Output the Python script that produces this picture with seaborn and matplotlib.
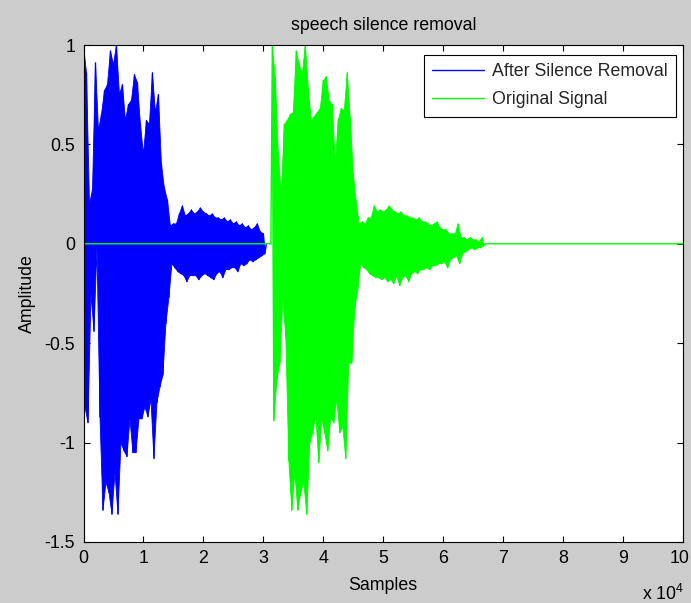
import matplotlib
matplotlib.use("Agg")
import matplotlib.pyplot as plt
import matplotlib.transforms as mtransforms
import pandas as pd
import seaborn as sns

SPACING = 500          # samples between successive peak readings
TOTAL_SAMPLES = 100000

# Speech after silence removal (starts at sample 0): positive / negative peaks
trimmed_start = 0
trimmed_hi = [1.0, 0.86, 0.2, 0.27, 0.91, 0.57, 0.65, 0.77, 0.8, 0.97,
              0.9, 1.0, 0.75, 0.8, 0.62, 0.7, 0.72, 0.85, 0.81, 0.6,
              0.45, 0.62, 0.6, 0.86, 0.66, 0.75, 0.4, 0.28, 0.22, 0.09,
              0.1, 0.1, 0.15, 0.19, 0.14, 0.15, 0.17, 0.15, 0.16, 0.18,
              0.16, 0.15, 0.14, 0.15, 0.13, 0.13, 0.12, 0.13, 0.11, 0.12,
              0.1, 0.11, 0.09, 0.1, 0.08, 0.09, 0.07, 0.08, 0.1, 0.06, 0.05]
trimmed_lo = [-0.82, -0.9, -0.25, -0.44, -0.02, -0.87, -1.34, -1.2, -1.25, -1.36,
              -1.15, -1.36, -1.0, -1.04, -1.07, -0.88, -1.05, -1.05, -0.88, -0.88,
              -0.82, -0.87, -0.78, -1.08, -0.8, -0.72, -0.66, -0.4, -0.27, -0.1,
              -0.12, -0.14, -0.15, -0.16, -0.19, -0.16, -0.16, -0.16, -0.18, -0.16,
              -0.15, -0.16, -0.17, -0.18, -0.15, -0.14, -0.17, -0.13, -0.13, -0.12,
              -0.12, -0.14, -0.1, -0.11, -0.1, -0.08, -0.09, -0.08, -0.07, -0.06, -0.05]

# Original recording: silence, speech from sample 31500, silence to the end
original_start = 31500
original_hi = [1.0, 0.83, 0.45, 0.25, 0.6, 0.62, 0.65, 0.66, 0.97, 0.9,
               0.85, 1.0, 0.78, 0.62, 0.64, 0.66, 0.68, 0.82, 0.84, 0.72,
               0.7, 0.41, 0.62, 0.68, 0.67, 0.86, 0.63, 0.35, 0.21, 0.1,
               0.11, 0.1, 0.13, 0.13, 0.19, 0.16, 0.17, 0.16, 0.17, 0.19,
               0.17, 0.16, 0.15, 0.16, 0.14, 0.14, 0.13, 0.13, 0.12, 0.13,
               0.11, 0.11, 0.1, 0.09, 0.1, 0.11, 0.08, 0.07, 0.07, 0.05,
               0.05, 0.05, 0.1, 0.03, 0.03, 0.02, 0.03, 0.02, 0.02, 0.01, 0.03]
original_lo = [-0.89, -0.69, -0.6, -0.28, -0.47, -1.09, -1.34, -1.15, -1.34, -1.25,
               -1.2, -1.36, -1.0, -0.95, -0.86, -1.1, -0.88, -0.95, -1.04, -0.87,
               -0.9, -0.78, -0.95, -0.92, -1.08, -0.6, -0.6, -0.33, -0.23, -0.1,
               -0.12, -0.13, -0.15, -0.16, -0.17, -0.17, -0.18, -0.17, -0.19, -0.18,
               -0.2, -0.16, -0.21, -0.17, -0.16, -0.19, -0.15, -0.14, -0.15, -0.13,
               -0.13, -0.12, -0.13, -0.11, -0.11, -0.1, -0.1, -0.09, -0.12, -0.08,
               -0.07, -0.06, -0.1, -0.05, -0.04, -0.03, -0.02, -0.03, -0.02, -0.02, -0.01]

x_tick_values = [0, 10000, 20000, 30000, 40000, 50000, 60000, 70000, 80000, 90000, 100000]
x_tick_labels = ["0", "1", "2", "3", "4", "5", "6", "7", "8", "9", "10"]
y_tick_values = [-1.5, -1, -0.5, 0, 0.5, 1]
y_tick_labels = ["-1.5", "-1", "-0.5", "0", "0.5", "1"]


def waveform(start, hi, lo):
    """Alternate positive and negative peaks to trace an audio waveform."""
    xs, ys = [], []
    for i, (h, l) in enumerate(zip(hi, lo)):
        xs += [start + i * SPACING, start + i * SPACING + SPACING / 2]
        ys += [h, l]
    return xs, ys


def envelope(start, hi, lo):
    """Closed outline through the positive peaks and back along the negative ones."""
    up = [(start + i * SPACING, h) for i, h in enumerate(hi)]
    down = [(start + i * SPACING + SPACING / 2, l) for i, l in enumerate(lo)]
    pts = up + down[::-1]
    return [p[0] for p in pts], [p[1] for p in pts]


tx, ty = waveform(trimmed_start, trimmed_hi, trimmed_lo)
tx.append(tx[-1] + SPACING / 2)
ty.append(0.0)
trimmed = pd.DataFrame({"sample": tx, "amp": ty})

ox, oy = waveform(original_start, original_hi, original_lo)
ox = [0, original_start - SPACING / 2] + ox + [ox[-1] + SPACING / 2, TOTAL_SAMPLES]
oy = [0.0, 0.0] + oy + [0.0, 0.0]
original = pd.DataFrame({"sample": ox, "amp": oy})

sns.set_style("ticks")
plt.rcParams["font.family"] = ["Liberation Sans", "DejaVu Sans"]
plt.rcParams["mathtext.fontset"] = "custom"
plt.rcParams["mathtext.rm"] = "Liberation Sans"
plt.rcParams["mathtext.it"] = "Liberation Sans"
plt.rcParams["mathtext.bf"] = "Liberation Sans"

FS = 12.8
BLUE = "#0000ff"
GREEN = "#00ff00"
fig = plt.figure(figsize=(6.91, 6.03), dpi=100, facecolor="#cccccc")
ax = fig.add_axes([83.5 / 691, 61 / 603, 599.5 / 691, 497 / 603])
ax.set_facecolor("white")

ex, ey = envelope(trimmed_start, trimmed_hi, trimmed_lo)
ax.fill(ex, ey, color=BLUE, lw=0.6)
sns.lineplot(data=trimmed, x="sample", y="amp", sort=False, estimator=None,
             color=BLUE, lw=1.0, ax=ax, label="After Silence Removal")

ex, ey = envelope(original_start, original_hi, original_lo)
ax.fill(ex, ey, color=GREEN, lw=0.6)
sns.lineplot(data=original, x="sample", y="amp", sort=False, estimator=None,
             color=GREEN, lw=1.0, ax=ax, label="Original Signal")

ax.set_xlim(0, TOTAL_SAMPLES)
ax.set_ylim(-1.5, 1)
ax.set_xticks(x_tick_values)
ax.set_xticklabels(x_tick_labels)
ax.set_yticks(y_tick_values)
ax.set_yticklabels(y_tick_labels)
ax.tick_params(direction="in", length=4, width=0.8, top=True, right=True,
               labelsize=FS, colors="black", pad=6)
for side in ax.spines.values():
    side.set_visible(True)
    side.set_color("black")
    side.set_linewidth(0.8)

# nudge the last x tick label so it stays inside the figure
last = ax.get_xticklabels()[-1]
last.set_transform(last.get_transform()
                   + mtransforms.ScaledTranslation(-3 / 100, 0, fig.dpi_scale_trans))

ax.set_title("speech silence removal", fontsize=FS, pad=11, color="black")
ax.set_xlabel("Samples", fontsize=FS, labelpad=7, color="black")
ax.set_ylabel("Amplitude", fontsize=FS, labelpad=6, color="black")
fig.text(642 / 691, 3 / 603, r"x 10$^{4}$", fontsize=FS, ha="left",
         va="baseline", color="black")

leg = ax.legend(loc="upper right", bbox_to_anchor=(0.9883, 0.98),
                borderaxespad=0, fontsize=FS, frameon=True, fancybox=False,
                framealpha=1, edgecolor="black", handlelength=2.9,
                handletextpad=0.45, labelspacing=0.63, borderpad=0.47)
leg.get_frame().set_linewidth(0.8)
for line in leg.get_lines():
    line.set_linewidth(1.0)

fig.savefig("out.png", dpi=100, facecolor=fig.get_facecolor())
